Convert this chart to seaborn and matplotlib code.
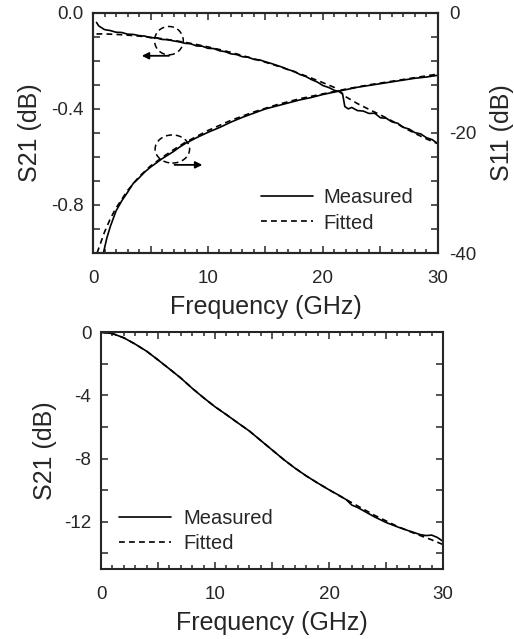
import numpy as np
import pandas as pd
import matplotlib
matplotlib.use("Agg")
import matplotlib.pyplot as plt
from matplotlib.patches import Ellipse
from matplotlib.lines import Line2D
from matplotlib.ticker import MultipleLocator, FuncFormatter
import seaborn as sns

# ---- top panel: S21 (left axis) and S11 (right axis) ----
f_s21_meas = [0.3, 0.5, 1.0, 1.5, 2.0, 2.5, 3.0, 3.5, 4.0, 4.5, 5.0, 5.5, 6.0, 6.5, 7.0, 7.5,
              8.0, 8.5, 9.0, 9.5, 10.0, 10.5, 11.0, 11.5, 12.0, 12.5, 13.0, 13.5, 14.0, 14.5,
              15.0, 15.5, 16.0, 16.5, 17.0, 17.5, 18.0, 18.5, 19.0, 19.5, 20.0, 20.5, 21.0,
              21.5, 21.7, 21.9, 22.2, 22.5, 23.0, 23.5, 24.0, 24.5, 25.0, 25.5, 26.0, 26.5,
              27.0, 27.5, 28.0, 28.5, 29.0, 29.5, 30.0]
s21_meas = [-0.040, -0.055, -0.070, -0.074, -0.081, -0.082, -0.089, -0.090, -0.095, -0.097,
            -0.104, -0.104, -0.111, -0.112, -0.117, -0.121, -0.127, -0.129, -0.138, -0.139,
            -0.148, -0.149, -0.158, -0.162, -0.171, -0.174, -0.183, -0.185, -0.194, -0.196,
            -0.204, -0.211, -0.219, -0.227, -0.237, -0.244, -0.257, -0.265, -0.278, -0.288,
            -0.303, -0.311, -0.323, -0.329, -0.336, -0.390, -0.400, -0.394, -0.407, -0.409,
            -0.419, -0.418, -0.437, -0.439, -0.454, -0.460, -0.477, -0.484, -0.499, -0.504,
            -0.520, -0.528, -0.545]
f_s21_fit = [0.3, 1, 2, 3, 4, 5, 6, 7, 8, 9, 10, 11, 12, 13, 14, 15, 16, 17, 18, 19, 20,
             21, 22, 23, 24, 25, 26, 27, 28, 29, 30]
s21_fit = [-0.088, -0.088, -0.090, -0.093, -0.097, -0.102, -0.108, -0.115, -0.123, -0.132,
           -0.142, -0.153, -0.165, -0.178, -0.192, -0.206, -0.221, -0.237, -0.254, -0.272,
           -0.291, -0.311, -0.350, -0.378, -0.402, -0.425, -0.450, -0.477, -0.502, -0.525,
           -0.545]

f_s11_meas = [0.9, 1.2, 1.5, 2.0, 2.5, 3.0, 3.5, 4.0, 4.5, 5.0, 5.5, 6.0, 6.5, 7.0, 7.5, 8.0,
              9.0, 10.0, 11.0, 12.0, 13.0, 14.0, 15.0, 16.0, 17.0, 18.0, 19.0, 20.0, 21.0,
              22.0, 23.0, 24.0, 25.0, 26.0, 27.0, 28.0, 29.0, 30.0]
s11_meas = [-40.0, -37.5, -35.6, -33.0, -31.3, -29.9, -28.4, -27.5, -26.5, -25.7, -25.0,
            -24.3, -23.7, -23.1, -22.4, -21.8, -20.8, -19.9, -19.1, -18.2, -17.4, -16.7,
            -16.0, -15.5, -15.0, -14.5, -14.1, -13.6, -13.2, -12.8, -12.4, -12.1, -11.8,
            -11.5, -11.2, -10.9, -10.7, -10.4]
f_s11_fit = [0.35, 1.0, 1.5, 2.0, 3.0, 4.0, 5.0, 6.0, 7.0, 8.0, 10.0, 12.0, 14.0, 16.0,
             18.0, 20.0, 22.0, 24.0, 26.0, 28.0, 30.0]
s11_fit = [-40.0, -36.5, -34.3, -32.5, -29.6, -27.3, -25.5, -24.1, -22.8, -21.6, -19.6,
           -17.9, -16.5, -15.3, -14.3, -13.5, -12.7, -12.0, -11.4, -10.8, -10.2]

# ---- bottom panel: S21 ----
f_b = [0, 1, 2, 3, 4, 5, 6, 7, 8, 9, 10, 11, 12, 13, 14, 15, 16, 17, 18, 19, 20, 21,
       21.5, 22, 22.5, 23, 24, 25, 26, 27, 28, 28.5, 29, 29.5, 30]
s21b_meas = [0.0, -0.08, -0.35, -0.75, -1.2, -1.75, -2.32, -2.9, -3.55, -4.15, -4.72,
             -5.22, -5.74, -6.25, -6.85, -7.45, -8.05, -8.6, -9.1, -9.55, -9.98, -10.38,
             -10.6, -10.95, -11.1, -11.3, -11.7, -12.05, -12.33, -12.58, -12.82, -12.88,
             -12.85, -13.0, -13.25]
f_b_fit = [0, 1, 2, 3, 4, 5, 6, 7, 8, 9, 10, 11, 12, 13, 14, 15, 16, 17, 18, 19, 20, 21,
           22, 23, 24, 25, 26, 27, 28, 29, 30]
s21b_fit = [0.0, -0.08, -0.35, -0.75, -1.2, -1.75, -2.32, -2.9, -3.55, -4.15, -4.72,
            -5.22, -5.74, -6.25, -6.85, -7.45, -8.05, -8.6, -9.1, -9.55, -9.98, -10.4,
            -10.8, -11.2, -11.6, -11.95, -12.3, -12.6, -12.88, -13.15, -13.45]

sns.set_style("ticks")
plt.rcParams['font.family'] = ['Liberation Sans', 'DejaVu Sans']
plt.rcParams['axes.linewidth'] = 1.5
plt.rcParams['axes.unicode_minus'] = False

lw = 1.2
dash = (0, (3.5, 2.5))
tick_fs = 13.5
label_fs = 18
leg_fs = 14.5

fig = plt.figure(figsize=(5.14, 6.39), dpi=100)
ax1 = fig.add_axes([0.181, 0.604, 0.671, 0.376])
ax3 = fig.add_axes([0.1965, 0.1095, 0.6655, 0.3705])


def style_x(ax):
    ax.set_xlim(0, 30)
    ax.xaxis.set_major_locator(MultipleLocator(5))
    ax.xaxis.set_minor_locator(MultipleLocator(1))
    ax.xaxis.set_major_formatter(FuncFormatter(lambda v, p: f"{v:.0f}" if v % 10 == 0 else ""))
    ax.tick_params(axis='x', which='both', direction='in', top=True, bottom=True,
                   labelsize=tick_fs, pad=12, width=1.1)
    ax.tick_params(axis='x', which='major', length=5)
    ax.tick_params(axis='x', which='minor', length=3)
    ax.set_xlabel("Frequency (GHz)", fontsize=label_fs, labelpad=6)


# top panel
sns.lineplot(x=f_s21_meas, y=s21_meas, ax=ax1, color='k', lw=lw)
sns.lineplot(x=f_s21_fit, y=s21_fit, ax=ax1, color='k', lw=lw, linestyle=dash)
ax1.set_ylim(-1.0, 0.0)
ax1.yaxis.set_major_locator(MultipleLocator(0.4))
ax1.yaxis.set_minor_locator(MultipleLocator(0.1))
ax1.yaxis.set_major_formatter(FuncFormatter(lambda v, p: f"{v:.1f}"))
ax1.tick_params(axis='y', which='both', direction='in', length=5, width=1.1,
                labelsize=tick_fs, pad=7, right=False)
ax1.set_ylabel("S21 (dB)", fontsize=label_fs, labelpad=6)
style_x(ax1)

ax2 = ax1.twinx()
sns.lineplot(x=f_s11_meas, y=s11_meas, ax=ax2, color='k', lw=lw)
sns.lineplot(x=f_s11_fit, y=s11_fit, ax=ax2, color='k', lw=lw, linestyle=dash)
ax2.set_ylim(-40, 0)
ax2.set_xlim(0, 30)
ax2.yaxis.set_major_locator(MultipleLocator(20))
ax2.yaxis.set_minor_locator(MultipleLocator(4))
ax2.tick_params(axis='y', which='both', direction='in', length=5, width=1.1,
                labelsize=tick_fs, pad=8)
ax2.set_ylabel("S11 (dB)", fontsize=label_fs, rotation=90, labelpad=10)
for sp in ax2.spines.values():
    sp.set_linewidth(1.5)

# dashed circles with arrows
ax1.add_patch(Ellipse((6.6, -0.116), 2.5, 0.118, fill=False, ls=(0, (4, 2.5)), lw=1.1, ec='k'))
ax1.annotate("", xy=(4.0, -0.179), xytext=(6.85, -0.179),
             arrowprops=dict(arrowstyle='-|>', color='k', lw=1.3, mutation_scale=10))
ax1.add_patch(Ellipse((6.9, -0.567), 3.0, 0.117, fill=False, ls=(0, (4, 2.5)), lw=1.1, ec='k'))
ax1.annotate("", xy=(9.75, -0.633), xytext=(6.85, -0.633),
             arrowprops=dict(arrowstyle='-|>', color='k', lw=1.3, mutation_scale=10))

handles = [Line2D([], [], color='k', lw=lw),
           Line2D([], [], color='k', lw=lw, linestyle=dash)]
ax2.legend(handles, ["Measured", "Fitted"], loc='lower right', frameon=False,
           fontsize=leg_fs, handlelength=2.6, handletextpad=0.5, labelspacing=0.3,
           bbox_to_anchor=(0.98, 0.01))

# bottom panel
sns.lineplot(x=f_b, y=s21b_meas, ax=ax3, color='k', lw=lw)
sns.lineplot(x=f_b_fit, y=s21b_fit, ax=ax3, color='k', lw=lw, linestyle=dash)
ax3.set_ylim(-15, 0)
ax3.yaxis.set_major_locator(MultipleLocator(4))
ax3.yaxis.set_minor_locator(MultipleLocator(2))
ax3.yaxis.set_major_formatter(FuncFormatter(lambda v, p: f"{v:.0f}"))
ax3.tick_params(axis='y', which='both', direction='in', length=5, width=1.1,
                labelsize=tick_fs, pad=7, right=True)
ax3.set_ylabel("S21 (dB)", fontsize=label_fs, labelpad=5)
style_x(ax3)
ax3.legend(handles, ["Measured", "Fitted"], loc='lower left', frameon=False,
           fontsize=leg_fs, handlelength=2.6, handletextpad=0.6, labelspacing=0.3,
           bbox_to_anchor=(0.0, -0.01))

fig.savefig("out.png", dpi=100)
